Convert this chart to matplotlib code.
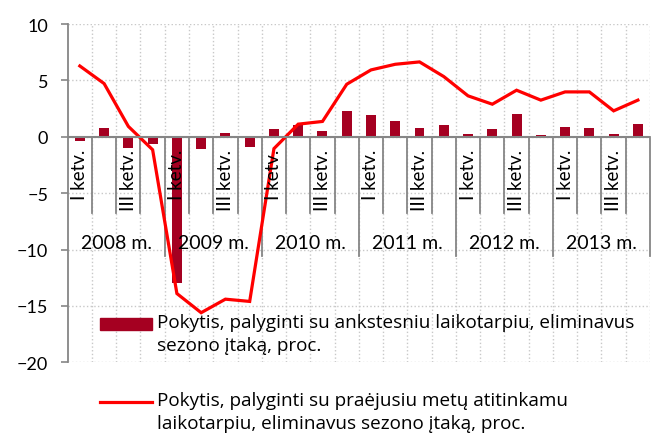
import numpy as np
import matplotlib.pyplot as plt
from matplotlib.patches import Rectangle
from matplotlib.lines import Line2D

plt.rcParams['font.family'] = ['Lato', 'DejaVu Sans']

years = ['2008 m.', '2009 m.', '2010 m.', '2011 m.', '2012 m.', '2013 m.']
quarter_names = ['I ketv.', '', 'III ketv.', '']

# pokytis, palyginti su ankstesniu laikotarpiu
qoq = [-0.35, 0.77, -1.0, -0.65,
       -13.0, -1.1, 0.32, -0.9,
       0.68, 1.05, 0.53, 2.27,
       1.89, 1.44, 0.74, 1.03,
       0.24, 0.68, 1.98, 0.15,
       0.91, 0.74, 0.29, 1.12]
# pokytis, palyginti su praejusiu metu atitinkamu laikotarpiu
yoy = [6.28, 4.72, 0.92, -1.15,
       -13.9, -15.6, -14.4, -14.6,
       -1.05, 1.12, 1.36, 4.66,
       5.93, 6.43, 6.64, 5.34,
       3.63, 2.89, 4.13, 3.25,
       3.98, 3.98, 2.30, 3.25]

bar_color = '#A50021'
line_color = '#FF0000'
gray = '#868686'

n = len(qoq)
x = np.arange(n)

fig = plt.figure(figsize=(6.51, 4.39), dpi=100)
ax = fig.add_axes([0.104, 0.1724, 0.8945, 0.7706])

ax.bar(x, qoq, width=0.41, color=bar_color, zorder=3)
ax.plot(x, yoy, color=line_color, lw=2.3, zorder=4, solid_joinstyle='miter')

ax.set_xlim(-0.5, n - 0.5)
ax.set_ylim(-20, 10)
ax.set_yticks(np.arange(-20, 11, 5))
ax.set_xticks([])
ax.set_xticks(np.arange(0.5, n, 1), minor=True)
ax.tick_params(axis='x', which='minor', length=0)
ax.tick_params(axis='y', length=5, width=1.2, color=gray, labelsize=13, pad=9)
ax.grid(axis='y', ls=':', color='#c8c8c8', lw=1)
ax.grid(axis='x', which='minor', ls=':', color='#c8c8c8', lw=1)
ax.set_axisbelow(True)

for s in ['top', 'right', 'bottom']:
    ax.spines[s].set_visible(False)
ax.spines['left'].set_color(gray)
ax.spines['left'].set_linewidth(1.3)
ax.axhline(0, color=gray, lw=1.5, zorder=5)

# category separators
for k in range(1, n + 1):
    bottom = -10.55 if k % 4 == 0 else -6.75
    ax.plot([k - 0.5, k - 0.5], [0, bottom], color=gray, lw=1.3,
            zorder=2, clip_on=False)

for i in range(n):
    name = quarter_names[i % 4]
    if name:
        ax.text(i, -1.05, name, rotation=90, ha='center', va='top',
                fontsize=13.5, zorder=6)
for j, yr in enumerate(years):
    ax.text(4 * j + 1.5, -9.35, yr, ha='center', va='center',
            fontsize=14, zorder=6)

# legend drawn by hand so the marker sits on the first text line
W, H = 651, 439
leg_font = dict(family=['Open Sans', 'DejaVu Sans'], fontsize=13.6,
                linespacing=1.38, ha='left', va='top')
fig.add_artist(Rectangle((100 / W, 1 - 330.7 / H), 52 / W, 11.4 / H,
                         transform=fig.transFigure, color=bar_color))
fig.text(157 / W, 1 - 314 / H,
         'Pokytis, palyginti su ankstesniu laikotarpiu, eliminavus\nsezono įtaką, proc.',
         **leg_font)
fig.add_artist(Line2D([100 / W, 152 / W], [1 - 403.3 / H, 1 - 403.3 / H],
                      transform=fig.transFigure, color=line_color, lw=2.3))
fig.text(157 / W, 1 - 392 / H,
         'Pokytis, palyginti su praėjusiu metų atitinkamu\nlaikotarpiu, eliminavus sezono įtaką, proc.',
         **leg_font)

fig.savefig('out.png', dpi=100)
